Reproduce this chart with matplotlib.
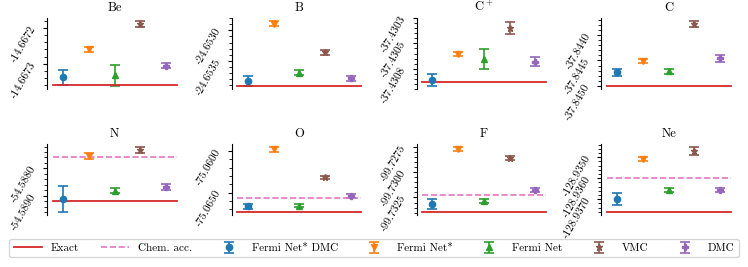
# Energies of first-row atoms: Fermi Net variants vs VMC / DMC, relative to exact.

import numpy as np
import matplotlib.pyplot as plt
from matplotlib.ticker import AutoMinorLocator, FormatStrFormatter

plt.rcParams['font.family'] = 'serif'
plt.rcParams['font.serif'] = ['cmr10', 'DejaVu Serif']
plt.rcParams['mathtext.fontset'] = 'cm'
plt.rcParams['axes.unicode_minus'] = False
plt.rcParams['axes.formatter.use_mathtext'] = True

# Data (Hartree).
atoms = ['Be', 'B', 'C$^+$', 'C', 'N', 'O', 'F', 'Ne']
exact = [-14.66736, -24.65391, -37.43088, -37.84500, -54.58920, -75.06730, -99.73390, -128.93760]
chem_acc = 0.0016

fn_dmc = [-14.667338, -24.65383, -37.43086, -37.84473, -54.58911, -75.06667, -99.73315, -128.93699]
fn_dmc_err = [0.00002, 0.00008, 0.00006, 0.00007, 0.00048, 0.0003, 0.00047, 0.0003]
fn_star = [-14.667259, -24.65289, -37.430605, -37.84451, -54.58755, -75.05980, -99.72771, -128.93508]
fn_star_err = [0.000007, 0.00004, 0.00002, 0.00004, 0.0001, 0.0003, 0.0002, 0.0001]
fn = [-14.667332, -24.65369, -37.430655, -37.84471, -54.58882, -75.06658, -99.73287, -128.93657]
fn_err = [0.00003, 0.00004, 0.0001, 0.00005, 0.0001, 0.0002, 0.0002, 0.0001]
vmc = [-14.667189, -24.65336, -37.43035, -37.84379, -54.58733, -75.06318, -99.72866, -128.93470]
vmc_err = [0.000008, 0.00004, 0.00006, 0.00006, 0.00012, 0.0002, 0.0002, 0.0002]
dmc = [-14.667305, -24.65378, -37.43068, -37.84446, -54.58868, -75.06543, -99.73178, -128.93657]
dmc_err = [0.000006, 0.00004, 0.000045, 0.00006, 0.0001, 0.0002, 0.0002, 0.0001]

yticks = [[-14.6673, -14.6672],
          [-24.6535, -24.6530],
          [-37.43075, -37.4305, -37.43025],
          [-37.8450, -37.8445, -37.8440],
          [-54.5890, -54.5880],
          [-75.0650, -75.0600],
          [-99.7325, -99.7300, -99.7275],
          [-128.9370, -128.9360, -128.9350]]

series = [('Fermi Net* DMC', fn_dmc, fn_dmc_err, 'o', 'C0'),
          ('Fermi Net*', fn_star, fn_star_err, 'v', 'C1'),
          ('Fermi Net', fn, fn_err, '^', 'C2'),
          ('VMC', vmc, vmc_err, '*', 'C5'),
          ('DMC', dmc, dmc_err, 'P', 'C4')]

fig, axes = plt.subplots(2, 4, figsize=(7.48, 2.67), dpi=100)
fig.subplots_adjust(left=0.063, right=0.984, top=0.933, bottom=0.195, wspace=0.37, hspace=0.76)

for i, ax in enumerate(axes.flat):
    lo, hi = exact[i], exact[i]
    for j, (name, vals, errs, m, c) in enumerate(series):
        ax.errorbar(j, vals[i], yerr=errs[i], fmt=m, color=c, ms=4.5, capsize=3.5,
                    elinewidth=1.2, capthick=1.2, label=name)
        lo = min(lo, vals[i] - errs[i])
        hi = max(hi, vals[i] + errs[i])
    ax.axhline(exact[i], xmin=0.04, xmax=0.96, color='C3', lw=1.3, label='Exact')
    ax.axhline(exact[i] + chem_acc, xmin=0.04, xmax=0.96, color='C6', lw=1.2, ls='--',
               label='Chem. acc.')
    pad = (hi - lo) * 0.05
    ax.set_ylim(lo - pad, hi + pad)
    ax.set_xlim(-0.62, 4.62)
    ax.set_title(atoms[i], fontsize=9, pad=5)
    ax.set_yticks(yticks[i])
    ax.yaxis.set_major_formatter(FormatStrFormatter('%.4f'))
    ax.yaxis.set_minor_locator(AutoMinorLocator())
    ax.tick_params(axis='y', labelsize=8, rotation=60, length=3)
    ax.tick_params(axis='y', which='minor', length=2)
    ax.set_xticks([])
    for s in ['top', 'right', 'bottom']:
        ax.spines[s].set_visible(False)

handles, labels = axes.flat[0].get_legend_handles_labels()
lookup = dict(zip(labels, handles))
order = ['Exact', 'Chem. acc.', 'Fermi Net* DMC', 'Fermi Net*', 'Fermi Net', 'VMC', 'DMC']
fig.legend([lookup[k] for k in order], order, loc='lower center',
           ncol=7, fontsize=8, bbox_to_anchor=(0.005, 0.015, 0.99, 0.1), mode='expand',
           handlelength=2.5, edgecolor='#cccccc')

plt.savefig('out.png', dpi=100)
